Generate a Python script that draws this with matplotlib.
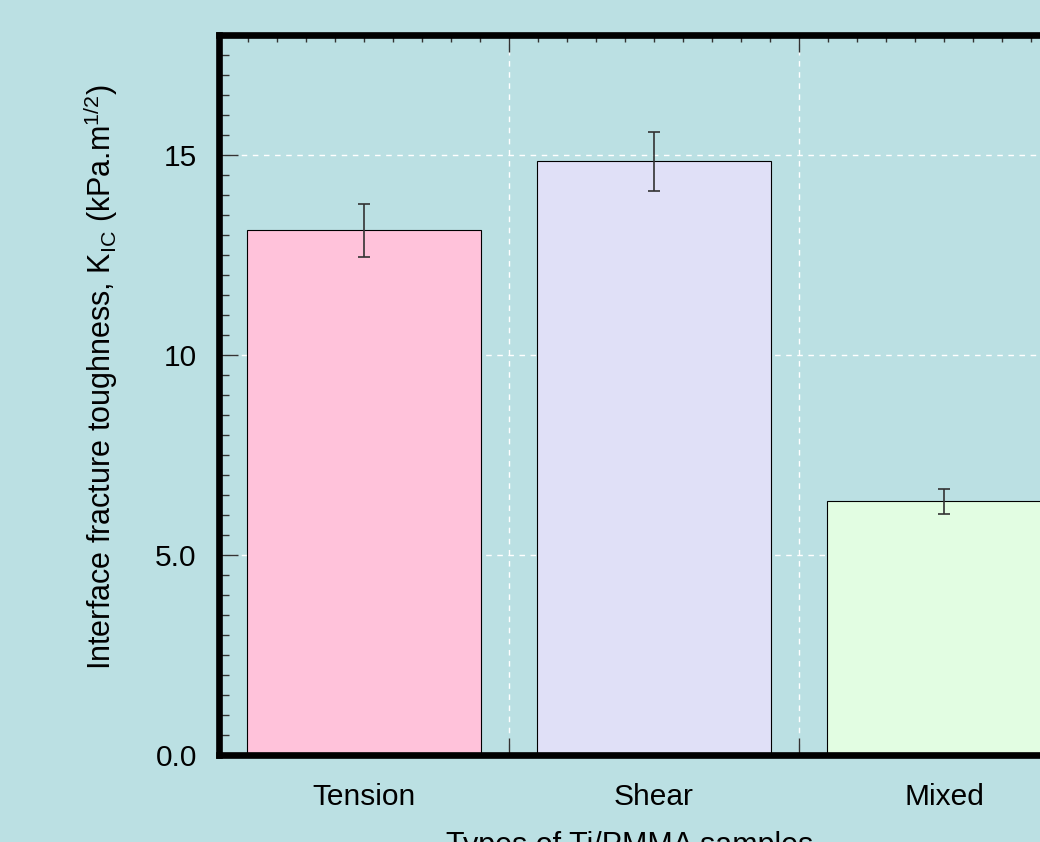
import numpy as np
import matplotlib.pyplot as plt
from matplotlib.ticker import MultipleLocator, FixedLocator

plt.rcParams['font.family'] = ['Liberation Sans', 'DejaVu Sans']
plt.rcParams['mathtext.default'] = 'regular'

# dados
amostras = ['Tension', 'Shear', 'Mixed']
kic = [13.12, 14.84, 6.34]
erro = [0.66, 0.74, 0.32]
cores = ['#ffc2da', '#e0e0f7', '#e2fde2']

fundo = '#bbe0e3'

fig = plt.figure(figsize=(10.4, 8.42), dpi=100, facecolor=fundo)
ax = fig.add_axes([219 / 1040, 87 / 842, 870 / 1040, 720 / 842])
ax.set_facecolor(fundo)

pos = np.arange(1, len(amostras) + 1)
ax.bar(pos, kic, width=0.805, color=cores, edgecolor='black', linewidth=0.8, zorder=2)
ax.errorbar(pos, kic, yerr=erro, fmt='none', ecolor='#333333', elinewidth=1.2,
            capsize=4.5, capthick=1.2, zorder=3)

ax.set_xlim(0.5, 3.5)
ax.set_ylim(0, 18)

ax.xaxis.set_major_locator(FixedLocator([1.5, 2.5]))
ax.xaxis.set_minor_locator(MultipleLocator(0.1))
ax.set_xticklabels([])
for p, nome in zip(pos, amostras):
    ax.text(p, -1.05, nome, ha='center', va='center', fontsize=21.5,
            transform=ax.transData)

ax.yaxis.set_major_locator(FixedLocator([0, 5, 10, 15]))
ax.set_yticklabels(['0.0', '5.0', '10', '15'])
ax.yaxis.set_minor_locator(MultipleLocator(0.5))

ax.tick_params(which='both', direction='in', top=True, right=True, color='#333333',
               width=1.0, labelsize=21.5)
ax.tick_params(which='major', length=14, pad=16)
ax.tick_params(which='minor', length=7)
ax.tick_params(axis='x', which='minor', length=5)
ax.tick_params(axis='x', which='major', length=12)

ax.grid(True, which='major', color='white', linestyle=(0, (4, 4)), linewidth=1.0, zorder=1)
ax.set_axisbelow(True)

for s in ax.spines.values():
    s.set_linewidth(4.8)
    s.set_color('black')

ax.set_ylabel(r'Interface fracture toughness, K$_{IC}$ (kPa.m$^{1/2}$)', fontsize=22)
ax.yaxis.set_label_coords(-0.114, 0.525)
ax.set_xlabel('Types of Ti/PMMA samples', fontsize=22)
ax.xaxis.set_label_coords(0.472, -0.106)

fig.savefig('out.png', dpi=100, facecolor=fundo)
